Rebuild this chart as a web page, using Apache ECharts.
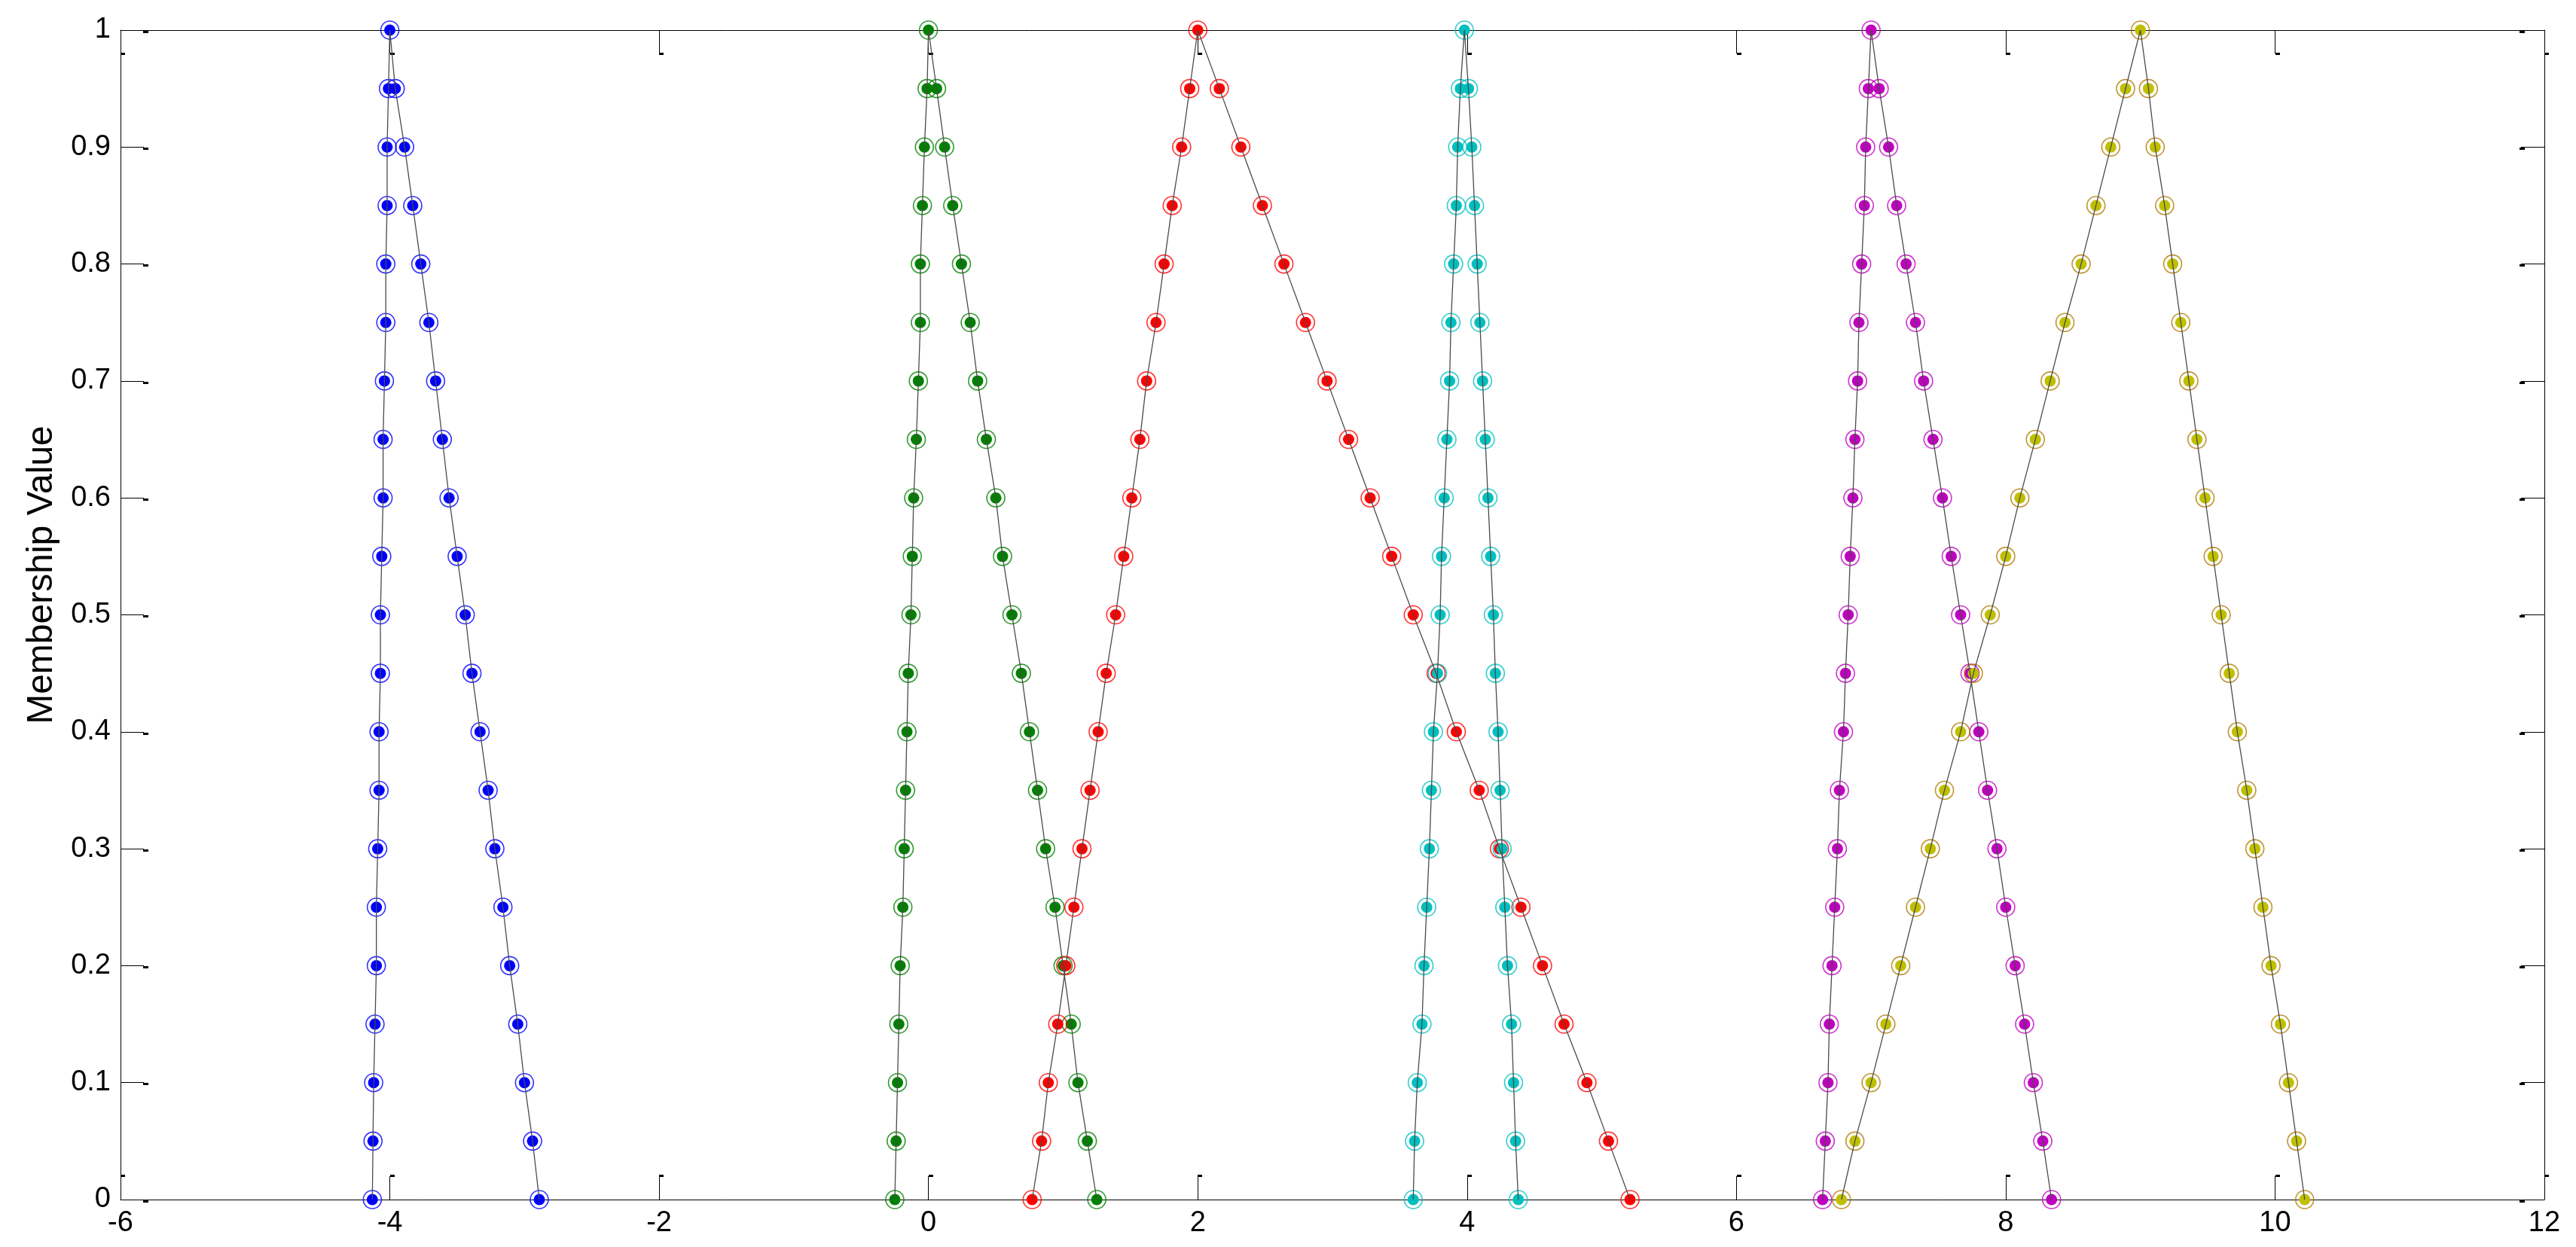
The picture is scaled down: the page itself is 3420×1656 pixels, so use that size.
<!DOCTYPE html>
<html>
<head>
<meta charset="utf-8">
<script src="https://cdn.jsdelivr.net/npm/echarts@6/dist/echarts.min.js"></script>
<style>
  html, body { margin: 0; padding: 0; background: #fff; }
  #chart { width: 3420px; height: 1656px; }
</style>
</head>
<body>
<div id="chart"></div>
<script>
// membership level of each point, left foot -> peak -> right foot
const yPath = [0, 0.05, 0.1, 0.15, 0.2, 0.25, 0.3, 0.35, 0.4, 0.45, 0.5, 0.55, 0.6, 0.65, 0.7, 0.75, 0.8, 0.85, 0.9, 0.95, 1,
  0.95, 0.9, 0.85, 0.8, 0.75, 0.7, 0.65, 0.6, 0.55, 0.5, 0.45, 0.4, 0.35, 0.3, 0.25, 0.2, 0.15, 0.1, 0.05, 0]

const blueX = [-4.13, -4.125, -4.12, -4.11, -4.10, -4.10, -4.09, -4.08, -4.08, -4.07, -4.07, -4.06, -4.05, -4.05, -4.04, -4.03, -4.03, -4.02, -4.02, -4.01, -4.00,
  -3.96, -3.89, -3.83, -3.77, -3.71, -3.66, -3.61, -3.56, -3.50, -3.44, -3.39, -3.33, -3.27, -3.22, -3.16, -3.11, -3.05, -3.00, -2.94, -2.89]
const greenX = [-0.25, -0.24, -0.23, -0.22, -0.21, -0.19, -0.18, -0.17, -0.16, -0.15, -0.13, -0.12, -0.11, -0.09, -0.075, -0.06, -0.06, -0.045, -0.03, -0.01, 0.00,
  0.06, 0.12, 0.18, 0.245, 0.31, 0.365, 0.43, 0.50, 0.55, 0.62, 0.69, 0.75, 0.81, 0.87, 0.94, 1.00, 1.06, 1.11, 1.18, 1.25]
const redX = [0.77, 0.84, 0.89, 0.96, 1.02, 1.08, 1.14, 1.20, 1.26, 1.32, 1.39, 1.45, 1.51, 1.57, 1.62, 1.69, 1.75, 1.81, 1.88, 1.94, 2.00,
  2.16, 2.32, 2.48, 2.64, 2.80, 2.96, 3.12, 3.28, 3.44, 3.60, 3.77, 3.92, 4.09, 4.24, 4.40, 4.56, 4.72, 4.89, 5.05, 5.21]
const cyanX = [3.60, 3.61, 3.63, 3.665, 3.68, 3.70, 3.72, 3.735, 3.75, 3.78, 3.80, 3.81, 3.83, 3.85, 3.87, 3.88, 3.90, 3.92, 3.93, 3.95, 3.98,
  4.01, 4.035, 4.055, 4.075, 4.095, 4.115, 4.135, 4.155, 4.175, 4.195, 4.21, 4.23, 4.245, 4.26, 4.28, 4.30, 4.33, 4.345, 4.36, 4.38]
const magentaX = [6.64, 6.66, 6.68, 6.69, 6.71, 6.73, 6.75, 6.765, 6.795, 6.81, 6.83, 6.845, 6.865, 6.88, 6.90, 6.91, 6.93, 6.95, 6.96, 6.98, 7.00,
  7.06, 7.13, 7.19, 7.26, 7.33, 7.39, 7.46, 7.53, 7.595, 7.665, 7.735, 7.80, 7.865, 7.935, 8.00, 8.07, 8.14, 8.205, 8.275, 8.34]
const yellowX = [6.78, 6.88, 7.00, 7.11, 7.22, 7.33, 7.44, 7.545, 7.665, 7.76, 7.885, 8.00, 8.105, 8.22, 8.33, 8.44, 8.56, 8.67, 8.78, 8.89, 9.00,
  9.06, 9.11, 9.18, 9.24, 9.30, 9.36, 9.42, 9.48, 9.54, 9.60, 9.66, 9.72, 9.79, 9.85, 9.91, 9.97, 10.04, 10.10, 10.16, 10.22]

const sets = [
  { x: blueX, fill: '#0000ff', ring: '#0000ff' },
  { x: greenX, fill: '#008000', ring: '#008000' },
  { x: redX, fill: '#ff0000', ring: '#ff0000' },
  { x: cyanX, fill: '#00bfbf', ring: '#00bfbf' },
  { x: magentaX, fill: '#bf00bf', ring: '#bf00bf' },
  { x: yellowX, fill: '#bfbf00', ring: '#b07800' }
]

const font = 'Liberation Sans, Arial, Helvetica, sans-serif'
const black = '#000'

let series = []
sets.forEach(s => {
  const pts = s.x.map((v, i) => [v, yPath[i]])
  series.push({
    type: 'scatter', data: pts, symbol: 'circle', symbolSize: 24, z: 2,
    itemStyle: { color: 'rgba(0,0,0,0)', borderColor: s.ring, borderWidth: 1.6 }
  })
  series.push({
    type: 'scatter', data: pts, symbol: 'circle', symbolSize: 15, z: 2,
    itemStyle: { color: s.fill, borderWidth: 0, opacity: 1 }
  })
})
sets.forEach(s => {
  series.push({
    type: 'line', data: s.x.map((v, i) => [v, yPath[i]]), showSymbol: false, z: 3,
    lineStyle: { color: '#4a4a4a', width: 1.3 }
  })
})

// little end marks of the ticks, drawn on slightly shifted grids
const flagX = (pos, gridIndex) => ({
  type: 'value', gridIndex, position: pos, min: -6, max: 12, interval: 2, offset: -30,
  axisLine: { show: false, onZero: false }, axisLabel: { show: false }, splitLine: { show: false },
  axisTick: { inside: true, length: 3, lineStyle: { color: black, width: 6 } }
})
const flagY = (pos, gridIndex, off, len) => ({
  type: 'value', gridIndex, position: pos, min: 0, max: 1, interval: 0.1, offset: off,
  axisLine: { show: false, onZero: false }, axisLabel: { show: false }, splitLine: { show: false },
  axisTick: { inside: true, length: len, lineStyle: { color: black, width: 3 } }
})
const hidden = (gridIndex, ax) => ({ type: 'value', gridIndex, show: false, min: ax === 'x' ? -6 : 0, max: ax === 'x' ? 12 : 1, axisLine: { onZero: false } })

const option = {
  animation: false,
  backgroundColor: '#fff',
  grid: [
    { left: 160, right: 42, top: 40, bottom: 63 },
    { left: 163, right: 39, top: 40, bottom: 63 },
    { left: 160, right: 42, top: 42, bottom: 61 }
  ],
  xAxis: [
    {
      type: 'value', gridIndex: 0, position: 'bottom', min: -6, max: 12, interval: 2,
      axisLine: { show: true, onZero: false, lineStyle: { color: black, width: 1 } },
      axisTick: { inside: true, length: 31, lineStyle: { color: black, width: 1 } },
      axisLabel: { color: black, fontSize: 38, fontFamily: font, margin: 13 },
      splitLine: { show: false }
    },
    {
      type: 'value', gridIndex: 0, position: 'top', min: -6, max: 12, interval: 2,
      axisLine: { show: true, onZero: false, lineStyle: { color: black, width: 1 } },
      axisTick: { inside: true, length: 31, lineStyle: { color: black, width: 1 } },
      axisLabel: { show: false },
      splitLine: { show: false }
    },
    flagX('bottom', 1),
    flagX('top', 1),
    hidden(2, 'x')
  ],
  yAxis: [
    {
      type: 'value', gridIndex: 0, position: 'left', min: 0, max: 1, interval: 0.1,
      name: 'Membership Value', nameLocation: 'middle', nameGap: 80,
      nameTextStyle: { color: black, fontSize: 48, fontFamily: font, padding: [0, 0, 0, 106] },
      axisLine: { show: true, onZero: false, lineStyle: { color: black, width: 1 } },
      axisTick: { inside: true, length: 31, lineStyle: { color: black, width: 1 } },
      axisLabel: { color: black, fontSize: 38, fontFamily: font, margin: 13 },
      splitLine: { show: false }
    },
    {
      type: 'value', gridIndex: 0, position: 'right', min: 0, max: 1, interval: 0.1,
      axisLine: { show: true, onZero: false, lineStyle: { color: black, width: 1 } },
      axisTick: { inside: true, length: 31, lineStyle: { color: black, width: 1 } },
      axisLabel: { show: false },
      splitLine: { show: false }
    },
    hidden(1, 'y'),
    flagY('left', 2, -30, 7),
    flagY('right', 2, -26, 7)
  ],
  series: series
}

const chart = echarts.init(document.getElementById('chart'))
chart.setOption(option)
</script>
</body>
</html>
